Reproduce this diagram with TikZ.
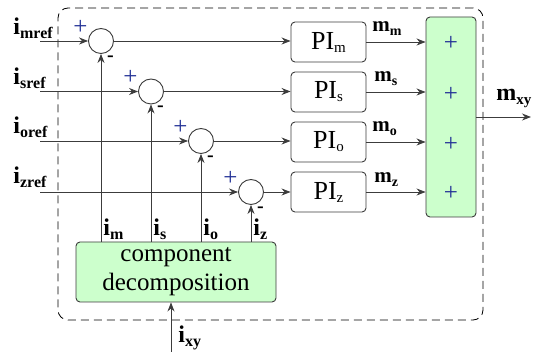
\documentclass[tikz,border=0pt]{standalone}
\usepackage{fontspec}
\setmainfont{Liberation Serif}
\usetikzlibrary{arrows.meta,calc}
\definecolor{lgreen}{RGB}{204,255,204}
\definecolor{edge}{RGB}{60,60,60}
\definecolor{signblue}{RGB}{35,50,150}
\newcommand\bigsub[4]{{\fontsize{#3}{#3}\selectfont\textbf{#1}}\raisebox{-4pt}{\fontsize{#4}{#4}\selectfont\textbf{#2}}}
\newcommand\pisub[1]{PI\raisebox{-3pt}{\fontsize{15}{15}\selectfont #1}}
\begin{document}
\begin{tikzpicture}[x=1pt,y=-1pt,line width=0.9pt,
  arr/.style={draw=edge,-{Stealth[length=9pt,width=7pt]}},
  sumc/.style={circle,draw=edge,fill=white,minimum size=25pt,inner sep=0pt},
  pibox/.style={draw=edge,rounded corners=4pt,minimum width=75pt,minimum height=40pt,inner sep=0pt,font=\fontsize{26}{27}\selectfont},
  greenbox/.style={draw=edge,fill=lgreen,rounded corners=4pt,inner sep=0pt},
  plus/.style={text=signblue,font=\fontsize{25}{25}\selectfont,inner sep=0pt},
  minus/.style={font=\fontsize{20}{20}\selectfont\bfseries,inner sep=0pt},
  lab/.style={anchor=base west,inner sep=0pt},
  frame/.style={draw=black,dashed,dash pattern=on 8pt off 5pt,rounded corners=10pt,line width=0.8pt}
]
\useasboundingbox (0,0) rectangle (533,352);
% frame
\node[frame,minimum width=425pt,minimum height=312pt] (fr) at (270.5,164) {};
% summing circles
\node[sumc] (s1) at (101,41) {};
\node[sumc] (s2) at (151,91.5) {};
\node[sumc] (s3) at (201,141) {};
\node[sumc] (s4) at (251,192) {};
% PI boxes
\node[pibox] (p1) at (328.5,42) {\pisub{m}};
\node[pibox] (p2) at (328.5,92) {\pisub{s}};
\node[pibox] (p3) at (328.5,142) {\pisub{o}};
\node[pibox] (p4) at (328.5,192) {\pisub{z}};
% sum box
\node[greenbox,minimum width=50pt,minimum height=200pt] (sum) at (451,117) {};
\foreach \y/\n in {43/a,94/b,144/c,193/d}
  \node[plus] (pl\n) at (451,\y) {+};
% decomposition
\node[greenbox,minimum width=200pt,minimum height=60pt,align=center,
      font=\fontsize{25}{29}\selectfont] (dec) at (176,272) {component\\decomposition};
% inputs
\coordinate (in1) at (40,41);
\coordinate (in2) at (40,91.5);
\coordinate (in3) at (40,141);
\coordinate (in4) at (40,192);
\foreach \i in {1,2,3,4}{
  \draw[arr] (in\i) -- (s\i.west);
  \draw[arr] (s\i.east) -- (s\i.east -| p\i.west);
  \draw[arr] (p\i.east) -- (p\i.east -| sum.west);
  \draw[arr] (dec.north -| s\i) -- (s\i.south);
  \node[plus] (sp\i) at ($(s\i)+(-20.5,-14)$) {+};
  \node[minus] (sm\i) at ($(s\i)+(9.5,17.5)$) {-};
}
% output
\coordinate (out) at (531,117);
\draw[arr] (sum.east) -- (out);
\coordinate (ixy) at (171,352);
\draw[arr] (ixy) -- (ixy |- dec.south);
% labels
\node[lab] (li1) at (13,35) {\bigsub{i}{mref}{24}{16}};
\node[lab] (li2) at (13,85) {\bigsub{i}{sref}{24}{16}};
\node[lab] (li3) at (13,134) {\bigsub{i}{oref}{24}{16}};
\node[lab] (li4) at (13,184) {\bigsub{i}{zref}{24}{16}};
\node[lab] (lm) at (103,236) {\bigsub{i}{m}{24}{16}};
\node[lab] (ls) at (153,236) {\bigsub{i}{s}{24}{16}};
\node[lab] (lo) at (203,236) {\bigsub{i}{o}{24}{16}};
\node[lab] (lz) at (253,236) {\bigsub{i}{z}{24}{16}};
\node[lab] (lxy) at (178,343) {\bigsub{i}{xy}{24}{16}};
\node[lab] (mm) at (372,32) {\bigsub{m}{m}{21}{14}};
\node[lab] (ms) at (374,82) {\bigsub{m}{s}{21}{14}};
\node[lab] (mo) at (372,132) {\bigsub{m}{o}{21}{14}};
\node[lab] (mz) at (374,183) {\bigsub{m}{z}{21}{14}};
\node[lab] (mxy) at (496,101) {\bigsub{m}{xy}{24}{15}};
\end{tikzpicture}
\end{document}
